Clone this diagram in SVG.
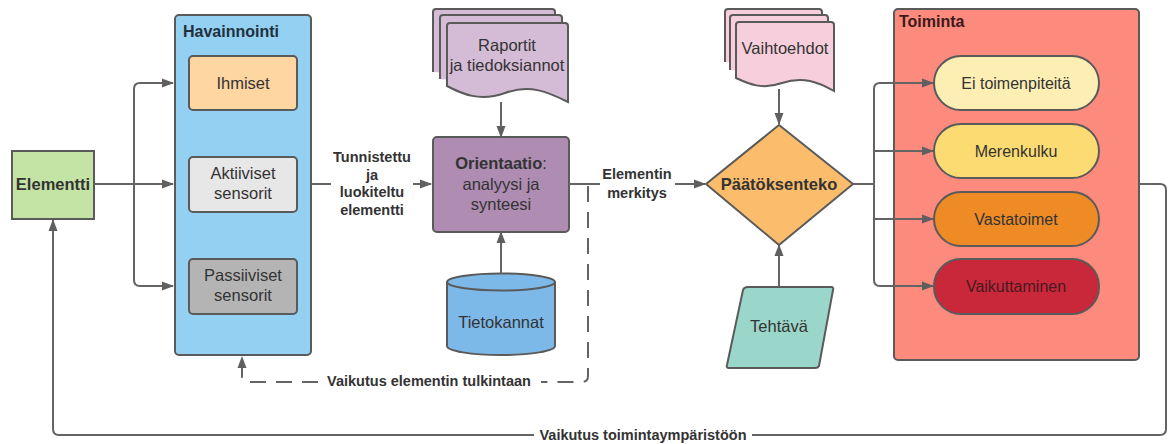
<svg xmlns="http://www.w3.org/2000/svg" width="1174" height="444" viewBox="0 0 1174 444">
<defs>
<style>
.n{stroke:#5a5a5a;stroke-width:2}
.c{fill:none;stroke:#646464;stroke-width:2}
.d{stroke-dasharray:16 10}
text{font-family:"Liberation Sans",Arial,sans-serif;fill:#333;text-anchor:middle}
.t{font-size:16.5px}
.b{font-size:16.5px;font-weight:bold}
.l{font-size:14.5px;font-weight:bold}
.h{font-size:16px;font-weight:bold;text-anchor:start;fill:#22303c}
</style>
<marker id="ah" markerUnits="userSpaceOnUse" markerWidth="12" markerHeight="10" refX="11" refY="5" orient="auto"><path d="M0,0.5 L12,5 L0,9.5 z" fill="#5f5f5f"/></marker>
</defs>
<rect width="1174" height="444" fill="#fff"/>

<g id="elementti">
<rect class="n" x="12" y="151" width="82" height="68" fill="#c4e4a6"/>
<text class="b" x="53" y="190">Elementti</text>
</g>

<g id="havainnointi">
<rect class="n" x="175" y="15" width="136" height="340" rx="4" fill="#93d0f1"/>
<text class="h" x="183" y="37">Havainnointi</text>
</g>
<g id="ihmiset">
<rect class="n" x="189" y="56" width="108" height="54" rx="4" fill="#fdd6a2"/>
<text class="t" x="243" y="89">Ihmiset</text>
</g>
<g id="aktiiviset">
<rect class="n" x="189" y="157" width="108" height="55" rx="4" fill="#e7e7e7"/>
<text class="t" x="243" y="179">Aktiiviset</text>
<text class="t" x="243" y="199">sensorit</text>
</g>
<g id="passiiviset">
<rect class="n" x="189" y="259" width="108" height="55" rx="4" fill="#b4b4b4"/>
<text class="t" x="243" y="281">Passiiviset</text>
<text class="t" x="243" y="301">sensorit</text>
</g>

<g id="raportit">
<path class="n" d="M433,72 V12 Q433,9 436,9 H552 Q555,9 555,12 V80" fill="#d5bcd6"/>
<path class="n" d="M440,79 V18 Q440,15 443,15 H559 Q562,15 562,18 V88" fill="#d5bcd6"/>
<path class="n" d="M447,86 V26 Q447,23 450,23 H565 Q568,23 568,26 V102 C548,92 530,84 505,93 C480,102 462,94 447,86 Z" fill="#d5bcd6"/>
<text class="t" x="507" y="51">Raportit</text>
<text class="t" x="507" y="71">ja tiedoksiannot</text>
</g>

<g id="orientaatio">
<rect class="n" x="433" y="137" width="136" height="95" rx="4" fill="#af8cb2"/>
<text x="501" y="169" class="t"><tspan font-weight="bold">Orientaatio</tspan>:</text>
<text class="t" x="501" y="190">analyysi ja</text>
<text class="t" x="501" y="210">synteesi</text>
</g>

<g id="tietokannat">
<path class="n" d="M447,282 V346 A54,9 0 0 0 555,346 V282" fill="#7db9e8"/>
<ellipse class="n" cx="501" cy="282" rx="54" ry="8.5" fill="#7db9e8"/>
<text class="t" x="501" y="328">Tietokannat</text>
</g>

<g id="vaihtoehdot">
<path class="n" d="M725,62 V12 Q725,9 728,9 H819 Q822,9 822,12 V72" fill="#f7cfdc"/>
<path class="n" d="M730,70 V18 Q730,15 733,15 H825 Q828,15 828,18 V80" fill="#f7cfdc"/>
<path class="n" d="M736,78 V25 Q736,22 739,22 H831 Q834,22 834,25 V91 C818,82 803,76 782,83 C762,90 749,84 736,78 Z" fill="#f7cfdc"/>
<text class="t" x="785" y="54">Vaihtoehdot</text>
</g>

<g id="paatoksenteko">
<path class="n" d="M779,125 L853,184 L779,245 L706,184 Z" fill="#fbbd6c" stroke-linejoin="round"/>
<text class="b" x="779" y="190">Päätöksenteko</text>
</g>

<g id="tehtava">
<path class="n" d="M748,287 H831 Q834,287 833,290 L819,366 Q818,368 815,368 H729 Q726,368 727,365 L743,290 Q744,287 748,287 Z" fill="#9bd6ca"/>
<text class="t" x="779" y="332">Tehtävä</text>
</g>

<g id="toiminta">
<rect class="n" x="894" y="9" width="245" height="351" rx="4" fill="#fc8b7d"/>
<text class="h" x="899" y="27" style="fill:#3a1a1a">Toiminta</text>
</g>
<g id="ei-toimenpiteita">
<rect class="n" x="934" y="56" width="165" height="54" rx="27" fill="#fdefb3"/>
<text x="1016" y="89" font-size="16">Ei toimenpiteitä</text>
</g>
<g id="merenkulku">
<rect class="n" x="934" y="124" width="165" height="54" rx="27" fill="#fcdc72"/>
<text x="1016" y="157" font-size="16">Merenkulku</text>
</g>
<g id="vastatoimet">
<rect class="n" x="934" y="192" width="165" height="54" rx="27" fill="#ee8b25"/>
<text x="1016" y="225" font-size="16">Vastatoimet</text>
</g>
<g id="vaikuttaminen">
<rect class="n" x="934" y="259" width="165" height="55" rx="27" fill="#c9283a"/>
<text x="1016" y="292" font-size="16" style="fill:#4a1820">Vaikuttaminen</text>
</g>

<g id="connectors">
<path class="c" d="M94,184 H173" marker-end="url(#ah)"/>
<path class="c" d="M134,184 V89 Q134,83 140,83 H173" marker-end="url(#ah)"/>
<path class="c" d="M134,184 V280 Q134,286 140,286 H173" marker-end="url(#ah)"/>
<path class="c" d="M311,184 H331"/>
<path class="c" d="M413,184 H431" marker-end="url(#ah)"/>
<path class="c" d="M569,184 H600"/>
<path class="c" d="M675,184 H705" marker-end="url(#ah)"/>
<path class="c d" d="M588,186 V376 Q588,382 582,382 H541"/>
<path class="c d" d="M318,382 H248 Q242,382 242,376 V357" marker-end="url(#ah)"/>
<path class="c" d="M501,102 V137" marker-end="url(#ah)"/>
<path class="c" d="M501,274 V232" marker-end="url(#ah)"/>
<path class="c" d="M779,89 V124" marker-end="url(#ah)"/>
<path class="c" d="M779,287 V245" marker-end="url(#ah)"/>
<path class="c" d="M853,184 H874"/>
<path class="c" d="M874,184 V89 Q874,83 880,83 H933" marker-end="url(#ah)"/>
<path class="c" d="M874,184 V280 Q874,286 880,286 H933" marker-end="url(#ah)"/>
<path class="c" d="M874,151 H933" marker-end="url(#ah)"/>
<path class="c" d="M874,219 H933" marker-end="url(#ah)"/>
<path class="c" d="M1139,184 H1160 Q1166,184 1166,190 V429 Q1166,435 1160,435 H752"/>
<path class="c" d="M534,435 H59 Q53,435 53,429 V220" marker-end="url(#ah)"/>
<text class="l" x="372" y="162">Tunnistettu</text>
<text class="l" x="372" y="180">ja</text>
<text class="l" x="372" y="197">luokiteltu</text>
<text class="l" x="372" y="215">elementti</text>
<text class="l" x="637" y="179">Elementin</text>
<text class="l" x="637" y="198">merkitys</text>
<text class="l" x="429" y="386">Vaikutus elementin tulkintaan</text>
<text class="l" x="643" y="440">Vaikutus toimintaympäristöön</text>
</g>
</svg>
